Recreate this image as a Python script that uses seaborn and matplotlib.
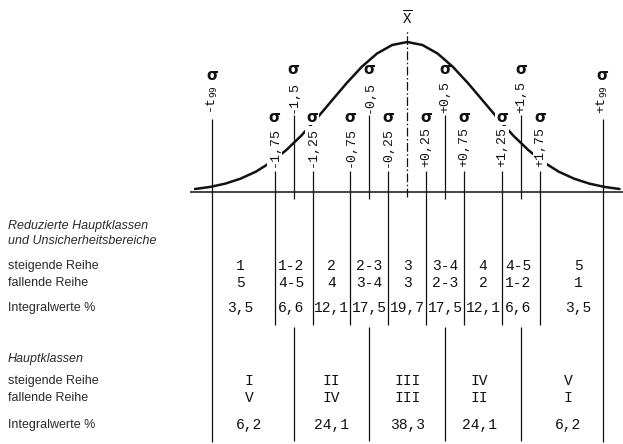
import numpy as np
import matplotlib
matplotlib.use("Agg")
import matplotlib.pyplot as plt
import seaborn as sns

# Normalkurve (x in Sigma, Hoehe relativ zum Maximum)
curve_x = [-2.8, -2.6, -2.4, -2.2, -2.0, -1.8, -1.6, -1.4, -1.2, -1.0, -0.8, -0.6, -0.4, -0.2, 0.0,
           0.2, 0.4, 0.6, 0.8, 1.0, 1.2, 1.4, 1.6, 1.8, 2.0, 2.2, 2.4, 2.6, 2.8]
curve_y = [0.020, 0.034, 0.056, 0.089, 0.135, 0.198, 0.278, 0.375, 0.487, 0.607, 0.726, 0.835, 0.923, 0.980, 1.0,
           0.980, 0.923, 0.835, 0.726, 0.607, 0.487, 0.375, 0.278, 0.198, 0.135, 0.089, 0.056, 0.034, 0.020]

# Sigma-Marken auf der Abszisse
t99 = 2.576
marks = [-t99, -1.75, -1.5, -1.25, -0.75, -0.5, -0.25, 0.25, 0.5, 0.75, 1.25, 1.5, 1.75, t99]
mark_labels = [r"-t$_{\mathtt{99}}$", "-1,75", "-1,5", "-1,25", "-0,75", "-0,5", "-0,25",
               "+0,25", "+0,5", "+0,75", "+1,25", "+1,5", "+1,75", r"+t$_{\mathtt{99}}$"]
main_bounds = [-1.5, -0.5, 0.5, 1.5]            # Grenzen der Hauptklassen

# Reduzierte Hauptklassen und Unsicherheitsbereiche
red_pos = [-2.2, -1.53, -1.0, -0.5, 0.0, 0.5, 1.0, 1.46, 2.26]
red_up = ["1", "1-2", "2", "2-3", "3", "3-4", "4", "4-5", "5"]
red_down = ["5", "4-5", "4", "3-4", "3", "2-3", "2", "1-2", "1"]
red_integral = ["3,5", "6,6", "12,1", "17,5", "19,7", "17,5", "12,1", "6,6", "3,5"]

# Hauptklassen
main_pos = [-2.09, -1.0, 0.0, 0.95, 2.12]
main_up = ["I", "II", "III", "IV", "V"]
main_down = ["V", "IV", "III", "II", "I"]
main_integral = ["6,2", "24,1", "38,3", "24,1", "6,2"]

row_labels = ["Reduzierte Hauptklassen", "und Unsicherheitsbereiche", "steigende Reihe", "fallende Reihe",
              "Integralwerte %", "Hauptklassen", "steigende Reihe", "fallende Reihe", "Integralwerte %"]

# Layout: Bildpunkte -> Datenkoordinaten
X0, SIG = 407.3, 75.8
Y0, H = 192.0, 150.0


def xpx(p):
    return (p - X0) / SIG


def ypx(p):
    return (Y0 - p) / H


sns.set_theme(style="white")
plt.rcParams['font.family'] = ['Liberation Sans', 'DejaVu Sans']
plt.rcParams['mathtext.fontset'] = 'dejavusans'
MONO = ['Liberation Mono', 'DejaVu Sans Mono']
INK = '#111111'

fig = plt.figure(figsize=(6.23, 4.44), dpi=100)
ax = fig.add_axes([0, 0, 1, 1])
ax.set_xlim(xpx(0), xpx(623))
ax.set_ylim(ypx(444), ypx(0))
ax.axis('off')

# Kurve und Grundlinie
sns.lineplot(x=curve_x, y=curve_y, color=INK, linewidth=1.8, ax=ax, zorder=2)
ax.hlines(0, xpx(190), xpx(623), color=INK, linewidth=1.1, zorder=1)

# Mittelwert
ax.vlines(0, ypx(197), ypx(30), color=INK, linewidth=0.9, linestyles=(0, (7, 2, 1.2, 2)))
ax.text(0, ypx(18), r'$\overline{\mathtt{X}}$', ha='center', va='center', fontsize=10, color=INK)

# Sigma-Marken mit Beschriftung
for m, lab in zip(marks, mark_labels):
    if abs(m) == t99:
        s_y, t_top, l_top, low = 75, 85, 119, False
    elif abs(m) in (1.5, 0.5):
        s_y, t_top, l_top, low = 69, 81, 115, False
    else:
        s_y, t_top, l_top, low = 117, 127, 171, True
    bb = dict(boxstyle='square,pad=0.05', fc='white', ec='none') if low else None
    ax.text(m, ypx(s_y), 'σ', ha='center', va='center', fontsize=11, fontweight='bold',
            family='DejaVu Sans', color=INK, zorder=4, bbox=bb)
    ax.text(m, ypx(t_top), lab, rotation=90, ha='center', va='top', fontsize=9.5,
            family=MONO, color=INK, zorder=4,
            bbox=dict(boxstyle='square,pad=0.1', fc='white', ec='none'))
    if abs(m) == t99:
        ax.vlines(m, ypx(442), ypx(l_top), color=INK, linewidth=0.9)
    elif m in main_bounds:
        ax.vlines(m, ypx(199), ypx(l_top), color=INK, linewidth=0.9)
    else:
        ax.vlines(m, ypx(325), ypx(l_top), color=INK, linewidth=0.9)

# Linien der Hauptklassen im unteren Teil
ax.vlines(main_bounds, ypx(441), ypx(327), color=INK, linewidth=0.9)

# Tabellenwerte
for vals, y in zip((red_up, red_down, red_integral), (266, 283, 308)):
    for x, v in zip(red_pos, vals):
        ax.text(x, ypx(y), v, ha='center', va='center', fontsize=10.5, family=MONO, color=INK)

for vals, y in zip((main_up, main_down, main_integral), (381, 398, 425)):
    for x, v in zip(main_pos, vals):
        ax.text(x, ypx(y), v, ha='center', va='center', fontsize=10.5, family=MONO, color=INK)

# Zeilenbeschriftung links
label_y = [226, 241, 266, 283, 308, 359, 381, 398, 425]
for i, (lab, y) in enumerate(zip(row_labels, label_y)):
    italic = i in (0, 1, 5)
    ax.text(xpx(8), ypx(y), lab, ha='left', va='center', fontsize=9,
            style='italic' if italic else 'normal', color='#2a2a2a')

fig.savefig('out.png', dpi=100)
